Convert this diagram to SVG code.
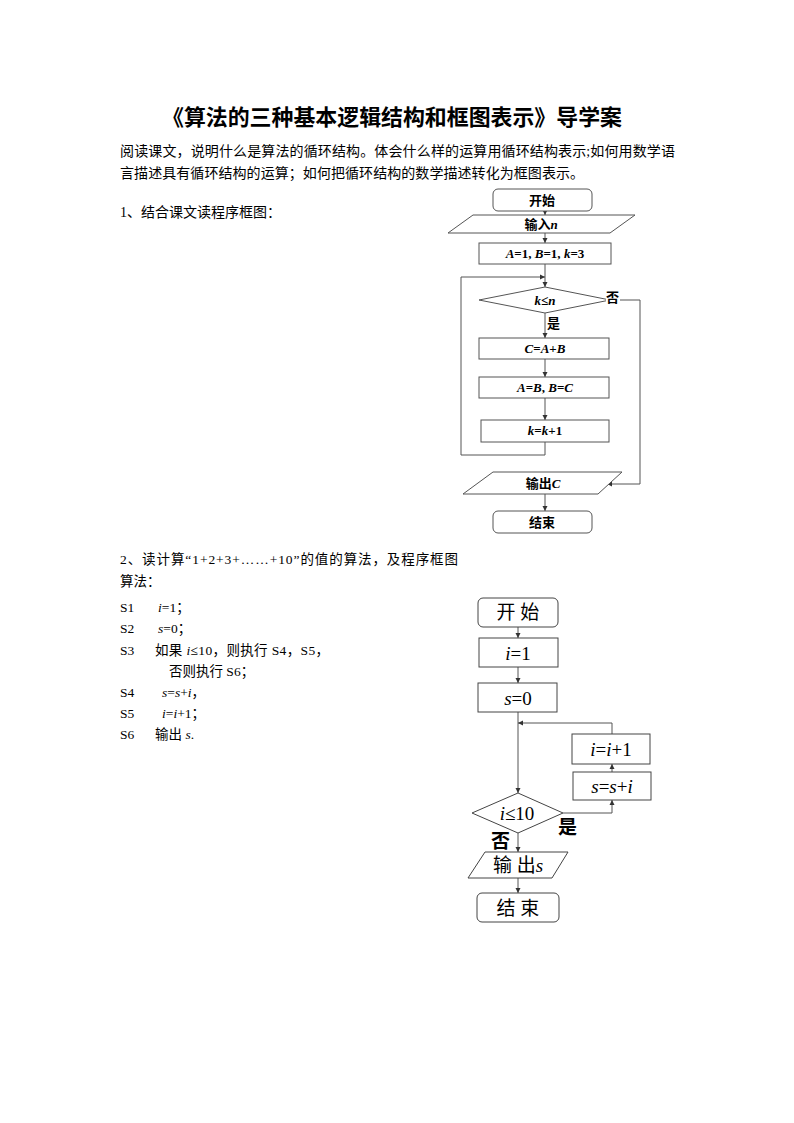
<svg xmlns="http://www.w3.org/2000/svg" width="794" height="1123" viewBox="0 0 794 1123">
<style>
text{font-family:"Liberation Serif","Noto Sans CJK SC",serif;fill:#000}
.t{font-size:22px;font-weight:bold}
.p{font-size:14px}
.b{font-size:13.5px}
.f1{font-size:13px;font-weight:bold}
.f2{font-size:19px}
.i{font-style:italic}
.n1{fill:#fff;stroke:#555;stroke-width:1}
.n2{fill:#fff;stroke:#444;stroke-width:1}
.c{fill:none;stroke:#555;stroke-width:1}
</style>
<defs>
<marker id="a" markerWidth="6" markerHeight="6" refX="5" refY="3" orient="auto" markerUnits="userSpaceOnUse">
<path d="M0,0.5 L5,3 L0,5.5 z" fill="#333"/>
</marker>
</defs>
<rect width="794" height="1123" fill="#fff"/>
<g id="text">
<text class="t" x="162" y="125" textLength="460" lengthAdjust="spacingAndGlyphs">《算法的三种基本逻辑结构和框图表示》导学案</text>
<text class="p" x="120" y="156" textLength="555">阅读课文，说明什么是算法的循环结构。体会什么样的运算用循环结构表示;如何用数学语</text>
<text class="p" x="120" y="178" textLength="464">言描述具有循环结构的运算；如何把循环结构的数学描述转化为框图表示。</text>
<text class="p" x="120" y="217">1、结合课文读程序框图：</text>
<text class="b" x="120" y="564" textLength="338">2、读计算“1+2+3+……+10”的值的算法，及程序框图</text>
<text class="b" x="120" y="586">算法：</text>
<text class="b" x="120" y="612">S1</text><text class="b" x="158" y="612"><tspan class="i">i</tspan>=1；</text>
<text class="b" x="120" y="633">S2</text><text class="b" x="158" y="633"><tspan class="i">s</tspan>=0；</text>
<text class="b" x="120" y="655">S3</text><text class="b" x="155" y="655" textLength="174">如果 <tspan class="i">i</tspan>≤10，则执行 S4，S5，</text>
<text class="b" x="169" y="676">否则执行 S6；</text>
<text class="b" x="120" y="697">S4</text><text class="b" x="162" y="697"><tspan class="i">s</tspan>=<tspan class="i">s</tspan>+<tspan class="i">i</tspan>，</text>
<text class="b" x="120" y="718">S5</text><text class="b" x="162" y="718"><tspan class="i">i</tspan>=<tspan class="i">i</tspan>+1；</text>
<text class="b" x="120" y="739">S6</text><text class="b" x="155" y="739">输出 <tspan class="i">s</tspan>.</text>
</g>
<g id="connectors1">
<line class="c" x1="545" y1="211" x2="545" y2="215" marker-end="url(#a)"/>
<line class="c" x1="545" y1="233" x2="545" y2="243" marker-end="url(#a)"/>
<line class="c" x1="545" y1="264" x2="545" y2="287" marker-end="url(#a)"/>
<polyline class="c" points="545,442 545,455 461,455 461,277 545,277" marker-end="url(#a)"/>
<line class="c" x1="545" y1="313" x2="545" y2="338" marker-end="url(#a)"/>
<line class="c" x1="545" y1="359" x2="545" y2="377" marker-end="url(#a)"/>
<line class="c" x1="545" y1="398" x2="545" y2="420" marker-end="url(#a)"/>
<polyline class="c" points="610,300 640,300 640,484 607,484" marker-end="url(#a)"/>
<line class="c" x1="545" y1="494" x2="545" y2="511" marker-end="url(#a)"/>
</g>
<g id="fc1-start"><rect class="n1" x="493" y="189" width="99" height="22" rx="5"/><text class="f1" x="542" y="205" text-anchor="middle">开始</text></g>
<g id="fc1-input"><polygon class="n1" points="473,215 635,215 610,233 448,233"/><text class="f1" x="541" y="229" text-anchor="middle">输入<tspan class="i">n</tspan></text></g>
<g id="fc1-init"><rect class="n1" x="479" y="243" width="132" height="21"/><text class="f1" x="545" y="258" text-anchor="middle"><tspan class="i">A</tspan>=1, <tspan class="i">B</tspan>=1, <tspan class="i">k</tspan>=3</text></g>
<g id="fc1-cond"><polygon class="n1" points="545,287 610,300 545,313 479,300"/><text class="f1" x="545" y="305" text-anchor="middle"><tspan class="i">k</tspan>≤<tspan class="i">n</tspan></text>
<rect x="606" y="290" width="14" height="14" fill="#fff"/>
<text class="f1" x="606" y="302">否</text><text class="f1" x="547" y="328">是</text></g>
<g id="fc1-c"><rect class="n1" x="479" y="338" width="130" height="21"/><text class="f1" x="545" y="353" text-anchor="middle"><tspan class="i">C</tspan>=<tspan class="i">A</tspan>+<tspan class="i">B</tspan></text></g>
<g id="fc1-ab"><rect class="n1" x="479" y="377" width="130" height="21"/><text class="f1" x="545" y="392" text-anchor="middle"><tspan class="i">A</tspan>=<tspan class="i">B</tspan>, <tspan class="i">B</tspan>=<tspan class="i">C</tspan></text></g>
<g id="fc1-k"><rect class="n1" x="481" y="420" width="128" height="22"/><text class="f1" x="545" y="435" text-anchor="middle"><tspan class="i">k</tspan>=<tspan class="i">k</tspan>+1</text></g>
<g id="fc1-output"><polygon class="n1" points="493,472 622,472 598,494 463,494"/><text class="f1" x="543" y="488" text-anchor="middle">输出<tspan class="i">C</tspan></text></g>
<g id="fc1-end"><rect class="n1" x="493" y="511" width="99" height="22" rx="5"/><text class="f1" x="542" y="527" text-anchor="middle">结束</text></g>
<g id="connectors2">
<line class="c" x1="518" y1="627" x2="518" y2="638" marker-end="url(#a)"/>
<line class="c" x1="518" y1="667" x2="518" y2="683" marker-end="url(#a)"/>
<line class="c" x1="518" y1="712" x2="518" y2="793" marker-end="url(#a)"/>
<polyline class="c" points="612,734 612,723 518,723" marker-end="url(#a)"/>
<line class="c" x1="612" y1="772" x2="612" y2="764" marker-end="url(#a)"/>
<polyline class="c" points="563,813 612,813 612,800" marker-end="url(#a)"/>
<line class="c" x1="518" y1="833" x2="518" y2="852" marker-end="url(#a)"/>
<line class="c" x1="518" y1="878" x2="518" y2="893" marker-end="url(#a)"/>
</g>
<g id="fc2-start"><rect class="n2" x="478" y="598" width="80" height="29" rx="5"/><text class="f2" x="518" y="619" text-anchor="middle">开 始</text></g>
<g id="fc2-i"><rect class="n2" x="479" y="638" width="79" height="29"/><text class="f2" x="518" y="660" text-anchor="middle"><tspan class="i">i</tspan>=1</text></g>
<g id="fc2-s"><rect class="n2" x="478" y="683" width="79" height="29"/><text class="f2" x="518" y="705" text-anchor="middle"><tspan class="i">s</tspan>=0</text></g>
<g id="fc2-inc"><rect class="n2" x="572" y="734" width="78" height="30"/><text class="f2" x="611" y="756" text-anchor="middle"><tspan class="i">i</tspan>=<tspan class="i">i</tspan>+1</text></g>
<g id="fc2-sum"><rect class="n2" x="573" y="772" width="78" height="28"/><text class="f2" x="612" y="793" text-anchor="middle"><tspan class="i">s</tspan>=<tspan class="i">s</tspan>+<tspan class="i">i</tspan></text></g>
<g id="fc2-cond"><polygon class="n2" points="518,793 563,813 518,833 472,813"/><text class="f2" x="517" y="820" text-anchor="middle"><tspan class="i">i</tspan>≤10</text>
<text class="f2" x="558" y="834" font-weight="bold">是</text><text class="f2" x="491" y="848" font-weight="bold">否</text></g>
<g id="fc2-output"><polygon class="n2" points="485,852 568,852 552,878 468,878"/><text class="f2" x="518" y="872" text-anchor="middle">输 出<tspan class="i">s</tspan></text></g>
<g id="fc2-end"><rect class="n2" x="477" y="893" width="82" height="29" rx="5"/><text class="f2" x="518" y="915" text-anchor="middle">结 束</text></g>
</svg>
